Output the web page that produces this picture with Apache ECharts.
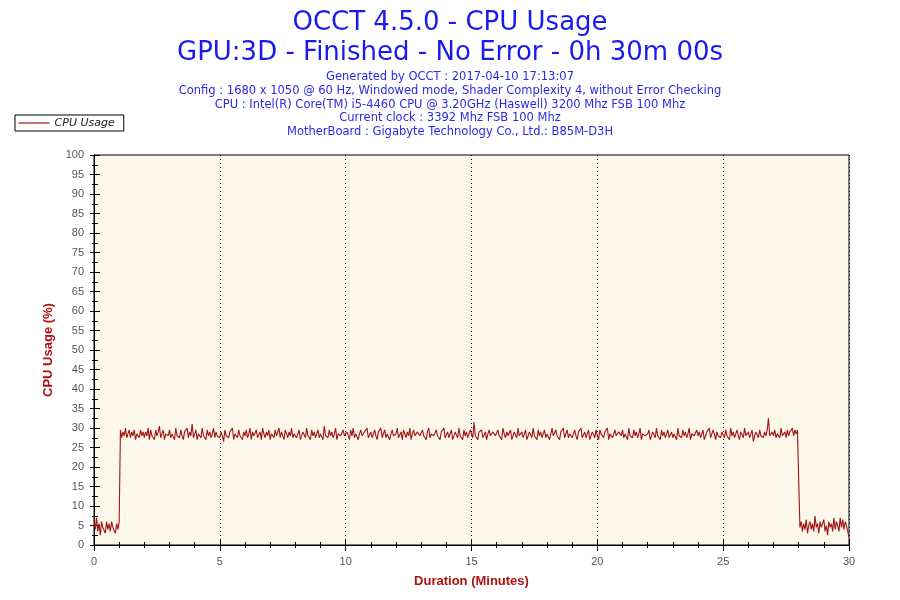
<!DOCTYPE html>
<html>
<head>
<meta charset="utf-8">
<script src="https://cdn.jsdelivr.net/npm/echarts@6/dist/echarts.min.js"></script>
<style>
  html, body { margin: 0; padding: 0; background: #fff; }
  #chart { width: 900px; height: 600px; }
</style>
</head>
<body>
<div id="chart"></div>
<script>
let titleLines = [
  'OCCT 4.5.0 - CPU Usage',
  'GPU:3D - Finished - No Error - 0h 30m 00s'
];

let infoLines = [
  'Generated by OCCT : 2017-04-10 17:13:07',
  'Config : 1680 x 1050 @ 60 Hz, Windowed mode, Shader Complexity 4, without Error Checking',
  'CPU : Intel(R) Core(TM) i5-4460 CPU @ 3.20GHz (Haswell) 3200 Mhz FSB 100 Mhz',
  'Current clock : 3392 Mhz FSB 100 Mhz',
  'MotherBoard : Gigabyte Technology Co., Ltd.: B85M-D3H'
];

// one reading every 3 seconds, one row per minute
let sampleSeconds = 3;
let cpuUsage = [
  6.5, 4, 7, 3.5, 5.5, 2.5, 6, 4.5, 5, 3, 6, 4, 5.5, 3.5, 6, 4.5, 5, 3, 5.5, 4,
  6, 29.5, 27.5, 29, 28, 30, 27.5, 28.5, 29.5, 27.5, 29, 28, 29.5, 27, 28.5, 29, 27.5, 29.5, 28, 29,
  27.5, 29, 28, 30, 27, 29.5, 28, 28.5, 27, 29.5, 28, 29, 30.5, 27.5, 28.5, 29.5, 27, 28.5, 29, 28,
  29.5, 27.5, 28.5, 29, 27, 30, 28, 28.5, 27.5, 29.5, 28, 27, 29, 28.5, 30, 27.5, 29, 28, 31, 27.5,
  28.5, 29.5, 27, 28.5, 29, 27.5, 30, 28, 28.5, 27, 29.5, 28, 29, 27.5, 28.5, 30, 27.5, 29, 28, 28.5,
  27.5, 29, 28, 26.5, 29.5, 28, 28.5, 27.5, 29, 28.5, 30, 27, 28.5, 29, 27.5, 29.5, 28, 28.5, 27, 29,
  28, 29.5, 27.5, 28.5, 30, 27, 29, 28, 28.5, 29.5, 27.5, 28, 29, 27, 30, 28.5, 27.5, 29, 28, 29.5,
  27, 28.5, 29, 27.5, 29.5, 28, 28.5, 30, 27.5, 29, 28, 27, 29.5, 28.5, 27.5, 29, 28, 30, 27.5, 28.5,
  29, 27.5, 28.5, 29.5, 27, 28, 29, 28.5, 27.5, 30, 28, 28.5, 27, 29.5, 28, 29, 27.5, 28.5, 29.5, 27.5,
  28.5, 29, 27, 30.5, 28, 28.5, 27.5, 29.5, 28, 29, 27.5, 28.5, 30, 27, 28.5, 29, 28, 27.5, 29.5, 28,
  27.5, 29, 28.5, 27, 29.5, 28, 30, 27.5, 28.5, 29, 27, 28.5, 29.5, 28, 27.5, 29, 28.5, 30, 27.5, 28,
  29, 27.5, 28.5, 29.5, 28, 27, 29, 28.5, 30, 27.5, 28, 29.5, 27.5, 28.5, 29, 27, 28.5, 29.5, 28, 27.5,
  28.5, 30, 27.5, 28, 29, 27, 29.5, 28.5, 27.5, 29, 28, 30, 27, 28.5, 29.5, 28, 27.5, 29, 28.5, 28,
  27.5, 29.5, 28, 28.5, 27, 29, 30, 27.5, 28.5, 29, 28, 27.5, 29.5, 28, 28.5, 27, 29, 28.5, 30, 27.5,
  28, 29, 27.5, 28.5, 29.5, 27, 28, 29, 28.5, 27.5, 30, 28, 28.5, 27, 29.5, 28, 29, 27.5, 28.5, 29.5,
  30, 27.5, 31.5, 28, 28.5, 27, 29, 28.5, 29.5, 27.5, 28, 29, 27, 28.5, 29.5, 28, 27.5, 29, 28.5, 28,
  27.5, 29.5, 28, 28.5, 27, 30, 28.5, 27.5, 29, 28, 28.5, 29.5, 27, 28, 29, 28.5, 27.5, 30, 28, 28.5,
  29, 27.5, 28.5, 29.5, 27, 28, 29, 28.5, 27.5, 30, 28, 28.5, 27, 29.5, 28, 29, 27.5, 28.5, 29.5, 27.5,
  28.5, 29, 27, 28.5, 30, 28, 27.5, 29.5, 28, 28.5, 27, 29, 28.5, 30, 27.5, 28, 29.5, 27.5, 28.5, 29,
  27.5, 28.5, 29.5, 28, 27, 29, 28.5, 30, 27.5, 28, 29, 27.5, 28.5, 29.5, 27, 28, 29, 28.5, 27.5, 29.5,
  28, 27, 29.5, 28.5, 28, 27.5, 29, 28.5, 30, 27, 28.5, 29, 27.5, 28, 29.5, 28, 27.5, 29, 28.5, 28,
  29.5, 27.5, 28.5, 29, 27, 30, 28, 28.5, 27.5, 29.5, 28, 29, 27.5, 28.5, 30, 27, 28.5, 29, 28, 27.5,
  28.5, 29.5, 27, 28, 29, 28.5, 27.5, 30, 28, 28.5, 27, 29.5, 28, 29, 27.5, 28.5, 29.5, 27.5, 28, 29,
  27.5, 28.5, 29, 27, 30, 28, 28.5, 27.5, 29.5, 28, 29, 27.5, 28.5, 30, 27, 28.5, 29, 28, 27.5, 29.5,
  28, 29, 27.5, 28.5, 29.5, 27, 28, 29, 28.5, 30, 27.5, 28, 29.5, 28.5, 27, 29, 28, 28.5, 27.5, 29,
  28.5, 27.5, 29.5, 28, 28.5, 27, 30, 28, 29, 27.5, 28.5, 29.5, 28, 27, 29, 28.5, 27.5, 30, 28, 28.5,
  29, 27.5, 28.5, 29.5, 26.5, 28, 29, 28.5, 27.5, 29.5, 28, 28.5, 27.5, 29, 28, 29.5, 32.5, 28, 28.5, 29,
  28, 29.5, 27.5, 28.5, 29, 27.5, 30, 28, 28.5, 29, 27.5, 29.5, 28, 29, 28.5, 30, 28, 29.5, 28.5, 29.5,
  29, 4.5, 6, 3.5, 5.5, 4, 6.5, 3, 5, 6, 4, 5.5, 3.5, 7.5, 4.5, 5.5, 3, 6, 4.5, 5,
  6.5, 3.5, 5, 2.5, 6, 4.5, 5.5, 3.5, 7, 4, 6, 5, 3.5, 7, 4.5, 6.5, 4, 6, 5, 3.5,
  2
];

let lineColor = '#a01414';
let axisTextColor = '#555';
let font = 'DejaVu Sans, Verdana, sans-serif';
let tickFont = 'Liberation Sans, Arial, sans-serif';

let chart = echarts.init(document.getElementById('chart'));

let points = cpuUsage.map((v, i) => [i * sampleSeconds / 60, v]);

let titles = [];
titleLines.forEach((t, i) => {
  titles.push({
    text: t, left: 'center', top: 5 + i * 30,
    textStyle: { color: '#1a1aee', fontSize: 26, fontWeight: 'normal', fontFamily: font }
  });
});
infoLines.forEach((t, i) => {
  titles.push({
    text: t, left: 'center', top: 66 + i * 13.8,
    textStyle: { color: '#2a2ae6', fontSize: 11.5, fontWeight: 'normal', fontFamily: font }
  });
});

function xAxisBase(inside, len, minorLen, withLabels) {
  return {
    type: 'value', min: 0, max: 30, interval: 5, position: 'bottom',
    axisLine: { show: true, onZero: false, lineStyle: { color: '#000', width: 1 } },
    axisTick: { show: true, inside: inside, length: len, lineStyle: { color: '#000' } },
    minorTick: { show: true, splitNumber: 5, length: minorLen, lineStyle: { color: '#000' } },
    axisLabel: { show: withLabels, color: axisTextColor, fontSize: 11, fontFamily: tickFont, margin: 11 },
    splitLine: { show: false }
  };
}

function yAxisBase(inside, len, minorLen, withLabels) {
  return {
    type: 'value', min: 0, max: 100, interval: 5, position: 'left',
    axisLine: { show: true, onZero: false, lineStyle: { color: '#000', width: 1 } },
    axisTick: { show: true, inside: inside, length: len, lineStyle: { color: '#000' } },
    minorTick: { show: true, splitNumber: 2, length: minorLen, lineStyle: { color: '#000' } },
    axisLabel: { show: withLabels, color: axisTextColor, fontSize: 11, fontFamily: tickFont, margin: 10 },
    splitLine: { show: false }
  };
}

let xMain = xAxisBase(false, 6, 3, true);
xMain.name = 'Duration (Minutes)';
xMain.nameLocation = 'middle';
xMain.nameGap = 30;
xMain.nameTextStyle = { color: '#b01010', fontSize: 13, fontWeight: 'bold', fontFamily: tickFont };
xMain.splitLine = { show: true, lineStyle: { color: '#000', type: [1, 3], width: 1 } };

let yMain = yAxisBase(false, 4, 2, true);
yMain.name = 'CPU Usage (%)';
yMain.nameLocation = 'middle';
yMain.nameGap = 31;
yMain.nameTextStyle = { color: '#b01010', fontSize: 13, fontWeight: 'bold', fontFamily: tickFont };

let option = {
  animation: false,
  backgroundColor: '#fff',
  title: titles,
  legend: {
    left: 15, top: 115,
    orient: 'vertical',
    borderColor: '#000', borderWidth: 1, borderRadius: 0,
    padding: [2, 9, 2, 3],
    itemWidth: 31, itemHeight: 15, itemGap: 0,
    itemStyle: { opacity: 0 },
    lineStyle: { width: 1.2, color: lineColor },
    textStyle: { color: '#222', fontSize: 11, fontStyle: 'italic', fontFamily: font },
    data: ['CPU Usage']
  },
  grid: {
    left: 94, right: 51, top: 155, bottom: 55,
    show: true, backgroundColor: '#fef8ea', borderColor: '#000', borderWidth: 1
  },
  xAxis: [xMain, xAxisBase(true, 6, 3, false)],
  yAxis: [yMain, yAxisBase(true, 6, 4, false)],
  series: [{
    name: 'CPU Usage',
    type: 'line',
    data: points,
    xAxisIndex: 0,
    yAxisIndex: 0,
    symbol: 'none',
    sampling: null,
    lineStyle: { color: lineColor, width: 1.1 },
    itemStyle: { color: lineColor }
  }]
};

chart.setOption(option);
</script>
</body>
</html>
